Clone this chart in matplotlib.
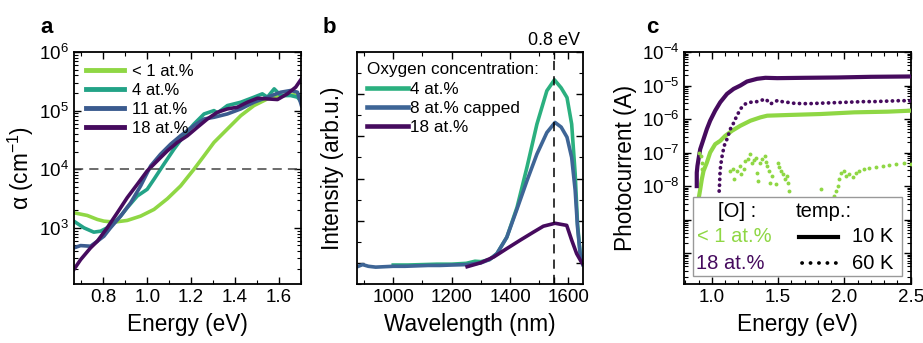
import numpy as np
import matplotlib
matplotlib.use("Agg")
import matplotlib.pyplot as plt
from matplotlib.ticker import LogLocator, FuncFormatter, MultipleLocator, NullFormatter
from matplotlib.patches import Rectangle
from matplotlib.lines import Line2D

plt.rcParams['font.family'] = ['Liberation Sans', 'DejaVu Sans']
plt.rcParams['mathtext.fontset'] = 'custom'
plt.rcParams['mathtext.rm'] = 'Liberation Sans'
plt.rcParams['mathtext.it'] = 'Liberation Sans:italic'
plt.rcParams['mathtext.default'] = 'regular'

# colours
c_lt1 = '#8fd744'
c_4 = '#23a387'
c_11 = '#3b5b8f'
c_18 = '#460b5e'
c_4b = '#2bb07f'
c_8b = '#3e6596'

# ---- panel a: absorption (energy in eV, log10 of alpha in cm^-1)
e_lt1 = [0.666, 0.727, 0.773, 0.803, 0.849, 0.909, 0.970, 1.031, 1.092, 1.152,
         1.213, 1.259, 1.304, 1.365, 1.426, 1.486, 1.547, 1.608, 1.669, 1.702]
la_lt1 = [3.257, 3.211, 3.143, 3.114, 3.097, 3.126, 3.200, 3.314, 3.497, 3.714,
          4.000, 4.229, 4.457, 4.686, 4.914, 5.086, 5.200, 5.257, 5.269, 5.229]

e_4 = [0.666, 0.712, 0.757, 0.788, 0.818, 0.849, 0.879, 0.909, 0.955, 1.000,
       1.031, 1.076, 1.122, 1.167, 1.213, 1.259, 1.304, 1.320, 1.365, 1.426,
       1.486, 1.524, 1.547, 1.578, 1.608, 1.653, 1.684, 1.702]
la_4 = [3.114, 3.000, 2.926, 2.943, 3.000, 3.086, 3.200, 3.343, 3.543, 3.657,
        3.829, 4.086, 4.343, 4.571, 4.771, 4.943, 5.000, 4.960, 5.086, 5.143,
        5.229, 5.286, 5.229, 5.371, 5.257, 5.257, 5.229, 5.143]

e_11 = [0.666, 0.697, 0.742, 0.773, 0.803, 0.833, 0.879, 0.925, 0.970, 1.016,
        1.061, 1.107, 1.152, 1.213, 1.259, 1.304, 1.365, 1.426, 1.486, 1.547,
        1.608, 1.653, 1.684, 1.702]
la_11 = [2.657, 2.697, 2.686, 2.771, 2.857, 3.000, 3.200, 3.429, 3.714, 4.057,
         4.257, 4.429, 4.571, 4.743, 4.857, 4.886, 4.943, 5.029, 5.143, 5.229,
         5.314, 5.343, 5.314, 5.086]

e_18 = [0.666, 0.697, 0.742, 0.773, 0.818, 0.864, 0.909, 0.955, 1.000, 1.046,
        1.092, 1.137, 1.183, 1.228, 1.274, 1.319, 1.365, 1.410, 1.456, 1.502,
        1.547, 1.593, 1.638, 1.676, 1.702]
la_18 = [2.286, 2.457, 2.657, 2.771, 3.000, 3.257, 3.514, 3.743, 3.971, 4.143,
         4.314, 4.457, 4.571, 4.714, 4.857, 4.971, 5.029, 5.057, 5.143, 5.211,
         5.200, 5.189, 5.286, 5.400, 5.543]

# ---- panel b: PL intensity (wavelength in nm, arb. units)
wl_8 = [877, 895, 915, 940, 970, 1000, 1040, 1080, 1120, 1160, 1200, 1250, 1300, 1330,
        1355, 1389, 1424, 1458, 1492, 1526, 1554, 1575, 1595, 1611, 1623, 1631, 1640, 1649]
pl_8 = [-0.09, -0.04, -0.08, -0.10, -0.09, -0.08, -0.08, -0.07, -0.06, -0.06, -0.05, -0.04, 0.00, 0.08,
        0.22, 0.61, 1.28, 1.95, 2.58, 3.09, 3.33, 3.22, 2.98, 2.50, 1.72, 0.85, 0.22, -0.04]

wl_4 = [1000, 1050, 1100, 1150, 1200, 1250, 1280, 1300, 1330, 1355, 1389, 1424, 1458,
        1492, 1526, 1552, 1575, 1595, 1611, 1623, 1631, 1640, 1649]
pl_4 = [-0.05, -0.05, -0.04, -0.03, -0.03, -0.01, 0.04, 0.03, 0.08, 0.22, 0.61, 1.32, 2.27,
        3.29, 4.08, 4.34, 4.15, 3.92, 3.29, 2.11, 0.93, 0.22, 0.06]

wl_18 = [1253, 1298, 1344, 1389, 1435, 1480, 1514, 1554, 1594, 1611, 1628, 1646, 1650]
pl_18 = [-0.09, 0.00, 0.14, 0.34, 0.54, 0.73, 0.87, 0.94, 0.89, 0.54, 0.22, 0.00, -0.03]

# ---- panel c: photocurrent (energy in eV, log10 of current in A)
e_18_10K = [0.886, 0.886, 0.891, 0.899, 0.912, 0.937, 0.962, 0.987, 1.025, 1.063, 1.114,
            1.164, 1.215, 1.265, 1.341, 1.404, 1.493, 1.695, 1.948, 2.200, 2.500]
li_18_10K = [-8.00, -7.60, -7.40, -7.20, -6.90, -6.60, -6.30, -6.05, -5.75, -5.50, -5.25,
             -5.10, -5.00, -4.88, -4.80, -4.77, -4.78, -4.77, -4.76, -4.74, -4.73]

e_lt1_10K = [0.895, 0.899, 0.912, 0.924, 0.937, 0.962, 0.987, 1.025, 1.063, 1.101, 1.152,
             1.215, 1.291, 1.366, 1.417, 1.569, 1.821, 2.074, 2.327, 2.500]
li_lt1_10K = [-9.00, -8.40, -8.10, -7.80, -7.55, -7.30, -7.00, -6.75, -6.65, -6.50, -6.35,
              -6.20, -6.05, -5.95, -5.90, -5.88, -5.85, -5.80, -5.78, -5.75]

e_18_60K = [1.055, 1.058, 1.060, 1.062, 1.066, 1.075, 1.085, 1.097, 1.114, 1.139, 1.160,
            1.177, 1.196, 1.215, 1.234, 1.253, 1.272, 1.291, 1.316, 1.341, 1.366, 1.391,
            1.404, 1.423, 1.442, 1.467, 1.493, 1.505, 1.530, 1.569, 1.620, 1.680, 1.740,
            1.800, 1.870, 1.940, 2.010, 2.080, 2.150, 2.220, 2.290, 2.360, 2.430, 2.500]
li_18_60K = [-8.15, -7.95, -7.75, -7.55, -7.40, -7.15, -6.95, -6.75, -6.60, -6.30, -6.15,
             -6.00, -5.85, -5.70, -5.62, -5.55, -5.52, -5.50, -5.49, -5.48, -5.45, -5.42,
             -5.40, -5.47, -5.55, -5.50, -5.45, -5.44, -5.48, -5.50, -5.53, -5.54, -5.54,
             -5.53, -5.52, -5.51, -5.50, -5.49, -5.48, -5.48, -5.47, -5.46, -5.45, -5.46]

e_lt1_60K = [0.905, 0.917, 0.922, 0.927, 1.139, 1.159, 1.169, 1.190, 1.215, 1.222, 1.240,
             1.253, 1.270, 1.291, 1.303, 1.321, 1.336, 1.341, 1.346, 1.361, 1.379, 1.397,
             1.407, 1.417, 1.430, 1.442, 1.457, 1.480, 1.498, 1.510, 1.523, 1.536, 1.548,
             1.564, 1.576, 1.581, 1.821, 1.922, 1.935, 1.948, 1.960, 1.973, 1.993, 2.011,
             2.036, 2.061, 2.087, 2.112, 2.150, 2.188, 2.238, 2.289, 2.339, 2.390, 2.453, 2.500]
li_lt1_60K = [-7.00, -7.10, -7.30, -7.50, -7.55, -7.50, -7.80, -7.55, -7.40, -7.65, -7.50,
              -7.25, -7.20, -7.05, -7.30, -7.22, -7.15, -7.60, -7.85, -7.30, -7.20, -7.10,
              -7.27, -7.40, -7.55, -7.90, -7.70, -7.95, -7.30, -7.42, -7.55, -7.65, -7.80,
              -7.70, -7.92, -8.15, -8.10, -8.30, -8.15, -8.00, -7.80, -7.60, -7.55, -7.70,
              -7.65, -7.72, -7.60, -7.55, -7.50, -7.45, -7.42, -7.40, -7.38, -7.34, -7.32, -7.35]


def style_axes(ax):
    ax.tick_params(which='both', direction='in', top=True, right=True, labelsize=13.5)
    ax.tick_params(which='major', length=5, width=1)
    ax.tick_params(which='minor', length=3, width=0.8)
    for s in ax.spines.values():
        s.set_linewidth(1.3)


fig = plt.figure(figsize=(9.23, 3.43), dpi=100)

# ---------------- a
ax1 = fig.add_axes([0.0802, 0.172, 0.2459, 0.6764])
ax1.plot(e_lt1, 10 ** np.array(la_lt1), color=c_lt1, lw=2.6, label='< 1 at.%')
ax1.plot(e_4, 10 ** np.array(la_4), color=c_4, lw=2.6, label='4 at.%')
ax1.plot(e_11, 10 ** np.array(la_11), color=c_11, lw=2.6, label='11 at.%')
ax1.plot(e_18, 10 ** np.array(la_18), color=c_18, lw=2.6, label='18 at.%')
ax1.axhline(1e4, color='#444444', lw=1.1, ls=(0, (6, 4)))
ax1.set_yscale('log')
ax1.set_xlim(0.667, 1.70)
ax1.set_ylim(110, 1e6)
ax1.xaxis.set_major_locator(MultipleLocator(0.2))
ax1.xaxis.set_minor_locator(MultipleLocator(0.1))
ax1.yaxis.set_major_locator(LogLocator(base=10, numticks=10))
ax1.yaxis.set_minor_locator(LogLocator(base=10, subs=np.arange(2, 10), numticks=10))
ax1.yaxis.set_minor_formatter(NullFormatter())
ax1.yaxis.set_major_formatter(FuncFormatter(lambda v, p: '10$^{%d}$' % round(np.log10(v))))
style_axes(ax1)
ax1.set_xlabel('Energy (eV)', fontsize=16.3, labelpad=5)
ax1.set_ylabel(r'$\alpha$ (cm$^{-1}$)', fontsize=16.3, labelpad=2)
leg1 = ax1.legend(loc='upper left', bbox_to_anchor=(0.0, 1.0), borderaxespad=0.3,
                  handlelength=2.3, handletextpad=0.5, labelspacing=0.25, fontsize=12,
                  frameon=False)
for h in leg1.get_lines():
    h.set_linewidth(3.5)
fig.text(0.044, 0.904, 'a', fontsize=16, fontweight='bold')

# ---------------- b
ax2 = fig.add_axes([0.3865, 0.172, 0.2452, 0.6764])
ax2.plot(wl_4, pl_4, color=c_4b, lw=2.6, label='4 at.%')
ax2.plot(wl_8, pl_8, color=c_8b, lw=2.6, label='8 at.% capped')
ax2.plot(wl_18, pl_18, color=c_18, lw=2.6, label='18 at.%')
ax2.axvline(1550, color='black', lw=1.1, ls=(0, (6, 4)))
ax2.set_xlim(875, 1650)
ax2.set_ylim(-0.5, 5.0)
ax2.set_xticks([1000, 1200, 1400, 1550, 1600])
ax2.set_xticklabels(['1000', '1200', '1400', '', '1600'])
ax2.xaxis.set_minor_locator(MultipleLocator(100))
ax2.yaxis.set_major_locator(MultipleLocator(1))
ax2.yaxis.set_minor_locator(MultipleLocator(0.5))
ax2.set_yticklabels([])
style_axes(ax2)
ax2.set_xlabel('Wavelength (nm)', fontsize=16.3, labelpad=5)
ax2.set_ylabel('Intensity (arb.u.)', fontsize=16.3, labelpad=6)
ax2.text(1550, 5.08, '0.8 eV', ha='center', va='bottom', fontsize=13)
leg2 = ax2.legend(loc='upper left', bbox_to_anchor=(0.0, 1.0), borderaxespad=0.2,
                  handlelength=2.4, handletextpad=0.1, labelspacing=0.25, fontsize=12.3,
                  frameon=False, title='Oxygen concentration:', title_fontsize=12.3)
leg2._legend_box.align = 'left'
for h in leg2.get_lines():
    h.set_linewidth(3.3)
fig.text(0.349, 0.904, 'b', fontsize=16, fontweight='bold')

# ---------------- c
ax3 = fig.add_axes([0.7411, 0.172, 0.2456, 0.6764])
ax3.plot(e_lt1_10K, 10 ** np.array(li_lt1_10K), color=c_lt1, lw=3.0, zorder=3)
ax3.plot(e_18_10K, 10 ** np.array(li_18_10K), color=c_18, lw=3.0, zorder=3)
ax3.plot(e_18_60K, 10 ** np.array(li_18_60K), color=c_18, lw=2.7,
         ls=(0, (0.05, 1.5)), dash_capstyle='round', zorder=3)
ax3.plot(e_lt1_60K, 10 ** np.array(li_lt1_60K), color=c_lt1, ls='none',
         marker='o', ms=2.8, mew=0, zorder=3)
ax3.set_yscale('log')
ax3.set_xlim(0.79, 2.5)
ax3.set_ylim(1.2e-11, 1e-4)
ax3.xaxis.set_major_locator(MultipleLocator(0.5))
ax3.xaxis.set_minor_locator(MultipleLocator(0.1))
ax3.yaxis.set_major_locator(LogLocator(base=10, numticks=12))
ax3.yaxis.set_minor_locator(LogLocator(base=10, subs=np.arange(2, 10), numticks=12))
ax3.yaxis.set_minor_formatter(NullFormatter())
ax3.yaxis.set_major_formatter(FuncFormatter(
    lambda v, p: '10$^{%d}$' % round(np.log10(v)) if np.log10(v) > -8.5 else ''))
style_axes(ax3)
ax3.set_xlabel('Energy (eV)', fontsize=16.3, labelpad=5)
ax3.set_ylabel('Photocurrent (A)', fontsize=16.3, labelpad=3)

# custom legend box
ax3.add_patch(Rectangle((0.038, 0.034), 0.922, 0.342, transform=ax3.transAxes,
                        facecolor='white', edgecolor='#999999', lw=1.0, zorder=5))
ax3.text(0.235, 0.312, '[O] :', transform=ax3.transAxes, ha='center', va='center',
         fontsize=14.5, zorder=6)
ax3.text(0.615, 0.312, 'temp.:', transform=ax3.transAxes, ha='center', va='center',
         fontsize=14.5, zorder=6)
ax3.text(0.222, 0.204, '< 1 at.%', transform=ax3.transAxes, ha='center', va='center',
         fontsize=14.5, color=c_lt1, zorder=6)
ax3.text(0.205, 0.089, '18 at.%', transform=ax3.transAxes, ha='center', va='center',
         fontsize=14.5, color=c_18, zorder=6)
ax3.add_line(Line2D([0.509, 0.681], [0.204, 0.204], transform=ax3.transAxes,
                    color='black', lw=3.0, zorder=6))
ax3.add_line(Line2D([0.52, 0.67], [0.089, 0.089], transform=ax3.transAxes,
                    color='black', lw=2.7, ls=(0, (0.05, 2.2)), dash_capstyle='round',
                    zorder=6))
ax3.text(0.925, 0.204, '10 K', transform=ax3.transAxes, ha='right', va='center',
         fontsize=14.5, zorder=6)
ax3.text(0.925, 0.089, '60 K', transform=ax3.transAxes, ha='right', va='center',
         fontsize=14.5, zorder=6)
fig.text(0.700, 0.904, 'c', fontsize=16, fontweight='bold')

fig.savefig('out.png', dpi=100)
